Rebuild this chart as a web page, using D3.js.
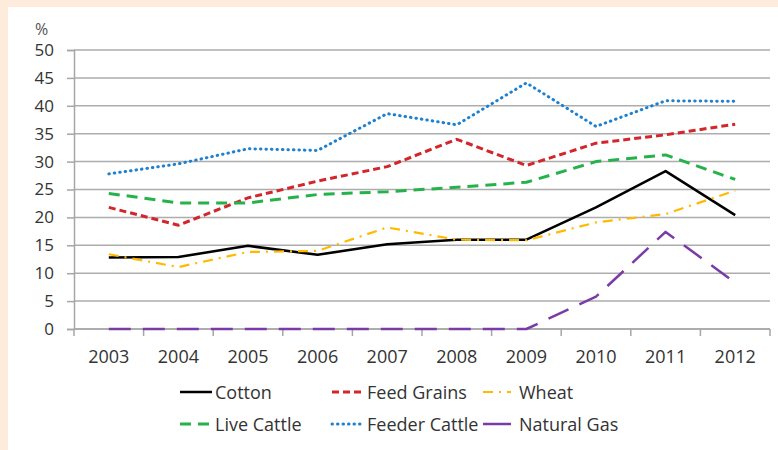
<!DOCTYPE html>
<html><head><meta charset="utf-8">
<script src="https://cdn.jsdelivr.net/npm/d3@7"></script>
<style>
html,body{margin:0;padding:0;background:#FDEBDC;}
svg{display:block;font-family:"Open Sans","Noto Sans",sans-serif;}
</style></head>
<body>
<svg id="c" width="778" height="450"></svg>
<script>
const years = ["2003","2004","2005","2006","2007","2008","2009","2010","2011","2012"];
const yTicks = [0,5,10,15,20,25,30,35,40,45,50];
const cotton = [12.8,12.9,14.9,13.3,15.2,16.0,16.0,21.8,28.3,20.4];
const feedGrains = [21.8,18.6,23.5,26.5,29.1,34.0,29.3,33.3,34.8,36.7];
const wheat = [13.4,11.1,13.8,14.0,18.2,16.0,15.9,19.1,20.6,24.8];
const liveCattle = [24.3,22.6,22.6,24.1,24.6,25.4,26.3,30.0,31.2,26.8];
const feederCattle = [27.8,29.6,32.3,32.0,38.6,36.6,44.1,36.3,40.9,40.8];
const naturalGas = [0,0,0,0,0,0,0,5.8,17.4,8.3];
const seriesNames = ["Cotton","Feed Grains","Wheat","Live Cattle","Feeder Cattle","Natural Gas"];

const series = [
  {name:seriesNames[0], values:cotton, color:"#000000", dash:null, w:2.5, cap:"butt"},
  {name:seriesNames[1], values:feedGrains, color:"#D2262C", dash:"7,4", w:3, cap:"butt"},
  {name:seriesNames[2], values:wheat, color:"#FFBA00", dash:"10,6,2,6", w:2.2, cap:"butt"},
  {name:seriesNames[3], values:liveCattle, color:"#25B24B", dash:"11,7", w:3, cap:"butt"},
  {name:seriesNames[4], values:feederCattle, color:"#1E80D0", dash:"0.5,5", w:3, cap:"round"},
  {name:seriesNames[5], values:naturalGas, color:"#7B3BA6", dash:"22,12", w:2.5, cap:"butt"}
];

const svg = d3.select("#c");
svg.append("rect").attr("x",8).attr("y",7).attr("width",770).attr("height",443).attr("fill","#ffffff");

const x = d3.scaleBand().domain(years).range([74,770]);
const y = d3.scaleLinear().domain([0,50]).range([329,50]);

// gridlines
svg.append("g").selectAll("line").data(yTicks).join("line")
  .attr("x1",74).attr("x2",770).attr("y1",d=>y(d)).attr("y2",d=>y(d))
  .attr("stroke","#ADADAD").attr("stroke-width",1.5);

// y axis
const yAxis = svg.append("g").attr("transform","translate(74,0)")
  .call(d3.axisLeft(y).tickValues(yTicks).tickSize(7).tickPadding(13));
yAxis.select(".domain").attr("stroke","#A6A6A6").attr("stroke-width",1.5);
yAxis.selectAll(".tick line").attr("stroke","#A6A6A6").attr("stroke-width",1.5);
yAxis.selectAll("text").attr("font-size",17).attr("fill","#333").attr("font-family","'Open Sans',sans-serif");

// x axis with ticks between categories
const xg = svg.append("g").attr("transform","translate(0,329)");
xg.append("line").attr("x1",74).attr("x2",770).attr("stroke","#A6A6A6").attr("stroke-width",1.5);
const bounds = years.map(d=>x(d)).concat([x(years[years.length-1])+x.bandwidth()]);
xg.selectAll(".tk").data(bounds).join("line").attr("class","tk")
  .attr("x1",d=>d).attr("x2",d=>d).attr("y1",0).attr("y2",7)
  .attr("stroke","#A6A6A6").attr("stroke-width",1.5);
xg.selectAll("text").data(years).join("text")
  .attr("x",d=>x(d)+x.bandwidth()/2).attr("y",34)
  .attr("text-anchor","middle").attr("font-size",18).attr("fill","#333").text(d=>d);

svg.append("text").attr("x",35).attr("y",35).attr("font-size",16).attr("fill","#555").text("%");

// lines
const line = d3.line().x((d,i)=>x(years[i])+x.bandwidth()/2).y(d=>y(d));
series.forEach(s=>{
  svg.append("path").datum(s.values).attr("d",line)
    .attr("fill","none").attr("stroke",s.color).attr("stroke-width",s.w)
    .attr("stroke-dasharray",s.dash).attr("stroke-linecap",s.cap).attr("stroke-linejoin","round");
});

// legend
const legPos = [[180,392],[332,392],[483,392],[180,424],[332,424],[483,424]];
const textX = [215,367,519,215,367,519];
series.forEach((s,i)=>{
  const [lx,ly] = legPos[i];
  const g = svg.append("g");
  g.append("line").attr("x1",lx).attr("x2",lx+(i>=2 && i!==3 && i!==4 ? 28 : 32)).attr("y1",ly).attr("y2",ly)
    .attr("stroke",s.color).attr("stroke-width",s.w)
    .attr("stroke-dasharray", i===5?null:s.dash).attr("stroke-linecap",s.cap);
  g.append("text").attr("x",textX[i]).attr("y",ly+6.5).attr("font-size",18).attr("fill","#333").text(s.name);
});
</script>
</body></html>
